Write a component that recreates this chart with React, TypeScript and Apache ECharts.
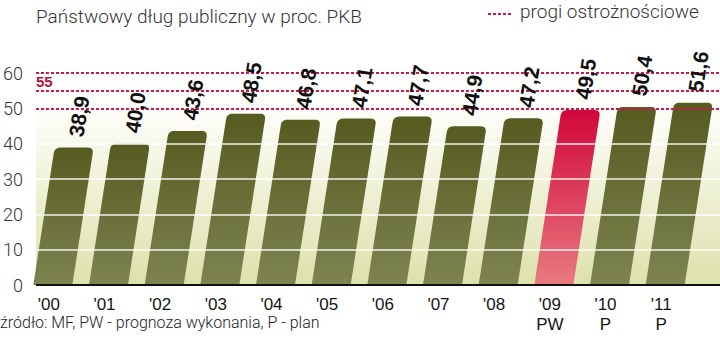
import React, { useEffect, useRef } from "react";
import * as echarts from "echarts";

const years = ["'00", "'01", "'02", "'03", "'04", "'05", "'06", "'07", "'08", "'09", "'10", "'11"];
const subLabels = ["", "", "", "", "", "", "", "", "", "PW", "P", "P"];
const debt = [38.9, 40.0, 43.6, 48.5, 46.8, 47.1, 47.7, 44.9, 47.2, 49.5, 50.4, 51.6];
const highlightIndex = 9;
const thresholds = [50, 55, 60];
const whiteGrid = [10, 20, 30, 40];

const SKEW = 0.155;
const BAR_W = 39;

function quad(p0: number[], p1: number[], p2: number[], n: number) {
  const pts: number[][] = [];
  for (let k = 0; k <= n; k++) {
    const t = k / n;
    const a = (1 - t) * (1 - t);
    const b = 2 * (1 - t) * t;
    const c = t * t;
    pts.push([a * p0[0] + b * p1[0] + c * p2[0], a * p0[1] + b * p1[1] + c * p2[1]]);
  }
  return pts;
}

export default function App() {
  const ref = useRef<HTMLDivElement>(null);
  useEffect(() => {
    document.body.style.margin = "0";
    const chart = echarts.init(ref.current!, null, { renderer: "svg" });
    const olive = new echarts.graphic.LinearGradient(0, 0, 0, 1, [
      { offset: 0, color: "#565b20" },
      { offset: 1, color: "#7e8451" },
    ]);
    const red = new echarts.graphic.LinearGradient(0, 0, 0, 1, [
      { offset: 0, color: "#d1073b" },
      { offset: 1, color: "#e97a80" },
    ]);
    const barGeom = (api: any) => {
      const i = api.value(0);
      const v = api.value(1);
      const base = api.coord([i, 0]);
      const top = api.coord([i, v]);
      const bx = base[0];
      const h = base[1] - top[1];
      const shift = SKEW * h;
      return { bx, by: base[1], ty: top[1], shift, h };
    };
    const option: any = {
      animation: false,
      title: {
        text: "Państwowy dług publiczny w proc. PKB",
        left: 31,
        top: 2,
        textStyle: { fontFamily: "Roboto", fontWeight: 300, fontSize: 19, color: "#333" },
      },
      grid: [
        { left: 25, right: 27, top: 73, bottom: 59 },
        { left: 33, right: 0, top: 73, bottom: 59 },
      ],
      xAxis: [
        {
          type: "category",
          gridIndex: 0,
          data: years,
          axisLine: { show: false },
          axisTick: { show: false },
          axisLabel: {
            interval: 0,
            margin: 9,
            fontFamily: "Liberation Sans",
            fontSize: 17,
            lineHeight: 20,
            color: "#151515",
            padding: [0, 8, 0, 0],
            formatter: (v: string, i: number) => (subLabels[i] ? v + "\n" + subLabels[i] : v),
          },
        },
        { type: "value", gridIndex: 1, min: 0, max: 1, show: false },
      ],
      yAxis: [
        { type: "value", gridIndex: 0, min: 0, max: 60, interval: 10, show: false },
        {
          type: "value",
          gridIndex: 1,
          min: 0,
          max: 60,
          interval: 10,
          axisLine: { show: false },
          axisTick: { show: false },
          splitLine: { show: false },
          axisLabel: { margin: 13, fontFamily: "Roboto", fontWeight: 300, fontSize: 18, color: "#333" },
        },
      ],
      graphic: [
        {
          type: "line",
          shape: { x1: 488, y1: 14, x2: 511, y2: 14 },
          style: { stroke: "#c8174e", lineWidth: 2, lineDash: [3, 2] },
        },
        {
          type: "text",
          x: 520,
          y: 2,
          style: { text: "progi ostrożnościowe", font: "300 19px Roboto", fill: "#333" },
        },
        {
          type: "text",
          x: 0,
          y: 314,
          style: { text: "źródło: MF, PW - prognoza wykonania, P - plan", font: "300 16px Roboto", fill: "#222" },
        },
      ],
      series: [
        {
          type: "line",
          xAxisIndex: 1,
          yAxisIndex: 1,
          data: [[0, 0]],
          showSymbol: false,
          silent: true,
          lineStyle: { opacity: 0 },
          markArea: {
            silent: true,
            z: 1,
            itemStyle: {
              color: new echarts.graphic.LinearGradient(0, 0, 0, 1, [
                { offset: 0, color: "#ffffff" },
                { offset: 0.2, color: "#fdfdf8" },
                { offset: 1, color: "#dde1aa" },
              ]),
            },
            data: [[{ yAxis: 0 }, { yAxis: 60 }]],
          },
        },
        {
          type: "custom",
          xAxisIndex: 0,
          yAxisIndex: 0,
          z: 3,
          data: debt.map((v, i) => [i, v]),
          renderItem: (params: any, api: any) => {
            const g = barGeom(api);
            const r = 6;
            const l = g.bx - BAR_W / 2;
            const rr = g.bx + BAR_W / 2;
            const tl = l + g.shift;
            const tr = rr + g.shift;
            const points: number[][] = [
              [l, g.by],
              ...quad([tl - SKEW * r, g.ty + r], [tl, g.ty], [tl + r, g.ty], 6),
              ...quad([tr - r, g.ty], [tr, g.ty], [tr - SKEW * r, g.ty + r], 6),
              [rr, g.by],
            ];
            return {
              type: "polygon",
              shape: { points },
              style: { fill: params.dataIndex === highlightIndex ? red : olive },
            };
          },
        },
        {
          type: "line",
          xAxisIndex: 1,
          yAxisIndex: 1,
          data: [[0, 0]],
          showSymbol: false,
          silent: true,
          z: 5,
          lineStyle: { opacity: 0 },
          markLine: {
            silent: true,
            symbol: "none",
            z: 5,
            data: [
              ...whiteGrid.map((y) => ({
                yAxis: y,
                lineStyle: { color: "#ffffff", width: 1.5, type: "solid", opacity: 0.9 },
                label: { show: false },
              })),
              ...thresholds.map((y) => ({
                yAxis: y,
                lineStyle: { color: "#c8174e", width: 2, type: [3, 2] },
                label:
                  y === 55
                    ? {
                        show: true,
                        position: "insideStartTop",
                        formatter: "55",
                        distance: [0, 2],
                        color: "#b8103f",
                        fontFamily: "Liberation Sans",
                        fontWeight: "bold",
                        fontSize: 15,
                      }
                    : { show: false },
              })),
              {
                yAxis: 0,
                lineStyle: { color: "#111", width: 2, type: "solid" },
                label: { show: false },
              },
            ],
          },
        },
        {
          type: "custom",
          xAxisIndex: 0,
          yAxisIndex: 0,
          z: 6,
          data: debt.map((v, i) => [i, v]),
          renderItem: (params: any, api: any) => {
            const g = barGeom(api);
            const gap = 11;
            const x = g.bx + g.shift + SKEW * gap;
            const y = g.ty - gap;
            const v = api.value(1);
            return {
              type: "text",
              x,
              y,
              rotation: (81 * Math.PI) / 180,
              style: {
                text: v.toFixed(1).replace(".", ","),
                font: "bold 21px 'Liberation Sans'",
                fill: "#111",
                align: "left",
                verticalAlign: "middle",
              },
            };
          },
        },
      ],
    };
    chart.setOption(option);
    return () => chart.dispose();
  }, []);
  return <div ref={ref} style={{ width: 720, height: 344 }} />;
}
